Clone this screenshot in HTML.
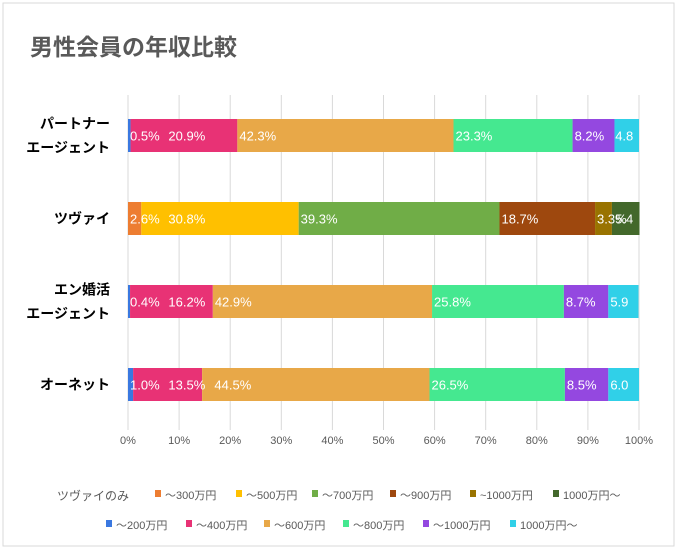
<!DOCTYPE html>
<html><head><meta charset="utf-8"><style>
body{margin:0;background:#fff;}
svg{display:block;font-family:"Liberation Sans","Noto Sans CJK JP",sans-serif;}
</style></head><body>
<svg id="chart" width="678" height="550">
<rect x="3" y="3" width="671" height="543" fill="#fff" stroke="#d9d9d9"/>
<text x="30" y="55" font-size="23" font-weight="bold" fill="#595959">男性会員の年収比較</text>
<g id="grid"></g><g id="bars"></g><g id="labels"></g><g id="legend"></g>
</svg>
<script>
const categories=["パートナー\nエージェント","ツヴァイ","エン婚活\nエージェント","オーネット"];
const seriesNamesA=["～200万円","～400万円","～600万円","～800万円","～1000万円","1000万円～"];
const seriesNamesB=["～300万円","～500万円","～700万円","～900万円","~1000万円","1000万円～"];
const valPartner=[0.5,20.9,42.3,23.3,8.2,4.8];
const valTsuvai=[2.6,30.8,39.3,18.7,3.3,5.4];
const valEn=[0.4,16.2,42.9,25.8,8.7,5.9];
const valOnet=[1.0,13.5,44.5,26.5,8.5,6.0];
const labPartner=["0.5%","20.9%","42.3%","23.3%","8.2%","4.8"];
const labTsuvai=["2.6%","30.8%","39.3%","18.7%","3.3%","5.4"];
const labEn=["0.4%","16.2%","42.9%","25.8%","8.7%","5.9"];
const labOnet=["1.0%","13.5%","44.5%","26.5%","8.5%","6.0"];
const ticks=[0,10,20,30,40,50,60,70,80,90,100];
const colorsA=["#3a78e0","#e83275","#e8a848","#45e890","#9448e0","#30d0e8"];
const colorsB=["#ed7d31","#ffc000","#70ad47","#9e480e","#997300","#43682b"];
const NS="http://www.w3.org/2000/svg";
const X0=128,X1=639,rowY=[119,202,285,368],BH=33;
const x=v=>X0+(X1-X0)*v/100;
function mk(t,a,p,txt){const e=document.createElementNS(NS,t);for(const k in a)e.setAttribute(k,a[k]);if(txt!==undefined)e.textContent=txt;p.appendChild(e);return e;}
const grid=document.getElementById('grid');
ticks.forEach(t=>{
 const l=mk('line',{x1:x(t),x2:x(t),y1:95,y2:430,stroke:'#d9d9d9'},grid);
 
 
 const tx=mk('text',{x:x(t),y:444,'font-size':11,fill:'#595959','text-anchor':'middle'},grid,t+'%');
 
 
});
const rows=[[valPartner,labPartner,colorsA],[valTsuvai,labTsuvai,colorsB],[valEn,labEn,colorsA],[valOnet,labOnet,colorsA]];
const bars=document.getElementById('bars'),labels=document.getElementById('labels');
rows.forEach((r,i)=>{
 const [vals,labs,cols]=r;let acc=0,prevEnd=0;
 const y=rowY[i];
 const lines=categories[i].split('\n');
 lines.forEach((ln,j)=>{
  const t=mk('text',{x:110,y:y+BH/2+5+(j-(lines.length-1)/2)*24,'font-size':14,'font-weight':'bold',fill:'#000','text-anchor':'end'},labels,ln);
  
  
 });
 vals.forEach((v,k)=>{
  const xs=x(acc),xe=x(acc+v);acc+=v;
  const b=mk('rect',{x:xs,y:y,width:Math.max(0,xe-xs),height:BH,fill:cols[k]},bars);
  
  
  const w=labs[k].length*7.6;
  let lx=Math.max(xs+2,prevEnd+8);
  if(lx+w>X1)lx=X1-w-1;
  prevEnd=lx+w;
  const t=mk('text',{x:lx,y:y+BH/2+5,'font-size':13,fill:'#fff'},labels,labs[k]);
  
  
 });
});
const lg=document.getElementById('legend');
const t0=mk('text',{x:57,y:500,'font-size':12,fill:'#595959'},lg,'ツヴァイのみ');


const lxB=[155,236,312,390,470,553],lxA=[106,186,264,343,423,510];
function legRow(names,cols,xs,y){names.forEach((n,k)=>{
 const g=mk('g',{},lg);
 
 
 mk('rect',{x:xs[k],y:y-9,width:6,height:7,fill:cols[k]},g);
 mk('text',{x:xs[k]+10,y:y,'font-size':11,fill:'#595959'},g,n);
});}
legRow(seriesNamesB,colorsB,lxB,499);
legRow(seriesNamesA,colorsA,lxA,529);
</script>
</body></html>
